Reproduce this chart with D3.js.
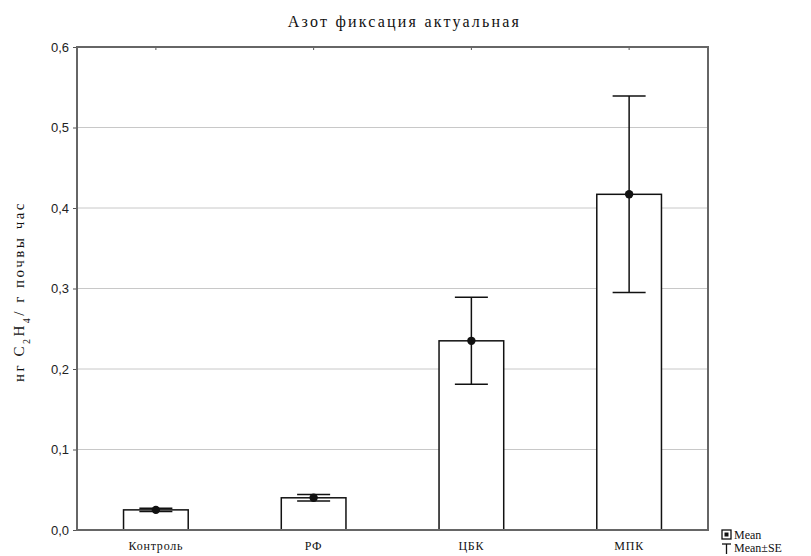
<!DOCTYPE html>
<html>
<head>
<meta charset="utf-8">
<script src="https://cdn.jsdelivr.net/npm/d3@7"></script>
<style>
  html, body { margin: 0; padding: 0; background: #fff; }
  svg { display: block; }
</style>
</head>
<body>
<svg id="chart" width="811" height="556"></svg>
<script>
// Nitrogen fixation data: mean and standard error per treatment
const categories = ["Контроль", "РФ", "ЦБК", "МПК"];
const means = [0.025, 0.040, 0.235, 0.417];
const stdErrors = [0.002, 0.004, 0.054, 0.122];
const yTicks = [0, 0.1, 0.2, 0.3, 0.4, 0.5, 0.6];
const titleText = "Азот фиксация актуальная";
const legendLabels = ["Mean", "Mean±SE"];

const svg = d3.select("#chart");
const margin = { left: 77, top: 47, right: 103, bottom: 26 };
const W = 811, H = 556;
const x0 = margin.left, x1 = W - margin.right;
const y0 = H - margin.bottom, y1 = margin.top;

const x = d3.scaleBand().domain(categories).range([x0, x1]).paddingInner(0).paddingOuter(0);
const y = d3.scaleLinear().domain([0, 0.6]).range([y0, y1]);

const serif = "'Liberation Serif', 'DejaVu Serif', serif";
const sans = "'Liberation Sans', Arial, sans-serif";

// Title
svg.append("text")
  .attr("x", (x0 + x1) / 2 + 12).attr("y", 27)
  .attr("text-anchor", "middle")
  .attr("font-family", serif).attr("font-size", 16)
  .attr("letter-spacing", 2.2)
  .attr("fill", "#111")
  .text(titleText);

// Horizontal gridlines
svg.append("g").selectAll("line")
  .data(yTicks.filter(t => t > 0 && t < 0.6))
  .join("line")
  .attr("x1", x0).attr("x2", x1)
  .attr("y1", d => y(d)).attr("y2", d => y(d))
  .attr("stroke", "#c8c8c8").attr("stroke-width", 1);

// Y axis with comma decimal labels
const fmt = d => d3.format(".1f")(d).replace(".", ",");
const yAxis = d3.axisLeft(y).tickValues(yTicks).tickFormat(fmt).tickSize(4).tickPadding(4);
const gy = svg.append("g").attr("transform", `translate(${x0},0)`).call(yAxis);
gy.select(".domain").remove();
gy.selectAll(".tick line").attr("stroke", "#555");
gy.selectAll(".tick text").attr("font-family", sans).attr("font-size", 13).attr("fill", "#222");

// X axis category labels
const xAxis = d3.axisBottom(x).tickSize(0).tickPadding(11);
const gx = svg.append("g").attr("transform", `translate(0,${y0})`).call(xAxis);
gx.select(".domain").remove();
gx.selectAll(".tick text").attr("font-family", serif).attr("font-size", 12)
  .attr("letter-spacing", 0.8).attr("fill", "#111");

// Small category ticks on top and bottom edges
const cx = d => x(d) + x.bandwidth() / 2;
svg.append("g").selectAll("line.tt").data(categories).join("line")
  .attr("x1", cx).attr("x2", cx).attr("y1", y1).attr("y2", y1 + 3)
  .attr("stroke", "#555");
svg.append("g").selectAll("line.tb").data(categories).join("line")
  .attr("x1", cx).attr("x2", cx).attr("y1", y0).attr("y2", y0 - 3)
  .attr("stroke", "#555");

// Bars
const barW = x.bandwidth() * 0.41;
const rows = categories.map((c, i) => ({ c, m: means[i], se: stdErrors[i] }));
svg.append("g").selectAll("rect").data(rows).join("rect")
  .attr("x", d => cx(d.c) - barW / 2)
  .attr("y", d => y(d.m))
  .attr("width", barW)
  .attr("height", d => y(0) - y(d.m))
  .attr("fill", "#fff").attr("stroke", "#111").attr("stroke-width", 1.5);

// Error bars
const capW = 33;
const eb = svg.append("g").selectAll("g").data(rows).join("g");
eb.append("line")
  .attr("x1", d => cx(d.c)).attr("x2", d => cx(d.c))
  .attr("y1", d => y(d.m + d.se)).attr("y2", d => y(d.m - d.se))
  .attr("stroke", "#111").attr("stroke-width", 1.5);
eb.append("line")
  .attr("x1", d => cx(d.c) - capW / 2).attr("x2", d => cx(d.c) + capW / 2)
  .attr("y1", d => y(d.m + d.se)).attr("y2", d => y(d.m + d.se))
  .attr("stroke", "#111").attr("stroke-width", 1.5);
eb.append("line")
  .attr("x1", d => cx(d.c) - capW / 2).attr("x2", d => cx(d.c) + capW / 2)
  .attr("y1", d => y(d.m - d.se)).attr("y2", d => y(d.m - d.se))
  .attr("stroke", "#111").attr("stroke-width", 1.5);
// Mean markers
eb.append("circle")
  .attr("cx", d => cx(d.c)).attr("cy", d => y(d.m)).attr("r", 4.2)
  .attr("fill", "#111");

// Plot frame
svg.append("rect")
  .attr("x", x0).attr("y", y1).attr("width", x1 - x0).attr("height", y0 - y1)
  .attr("fill", "none").attr("stroke", "#666").attr("stroke-width", 2);

// Legend
const lg = svg.append("g").attr("transform", "translate(722,530)");
lg.append("rect").attr("x", 0).attr("y", 0).attr("width", 9).attr("height", 9)
  .attr("fill", "#fff").attr("stroke", "#111").attr("stroke-width", 1.3);
lg.append("rect").attr("x", 2.5).attr("y", 2.5).attr("width", 4).attr("height", 4).attr("fill", "#111");
lg.append("text").attr("x", 12).attr("y", 9)
  .attr("font-family", serif).attr("font-size", 12).attr("fill", "#111").text(legendLabels[0]);
lg.append("line").attr("x1", 0).attr("x2", 9).attr("y1", 14).attr("y2", 14).attr("stroke", "#111").attr("stroke-width", 1.3);
lg.append("line").attr("x1", 4.5).attr("x2", 4.5).attr("y1", 14).attr("y2", 24).attr("stroke", "#111").attr("stroke-width", 1.3);
lg.append("text").attr("x", 12).attr("y", 22)
  .attr("font-family", serif).attr("font-size", 12).attr("fill", "#111").text(legendLabels[1]);

// Y axis title
svg.append("text")
  .attr("transform", `translate(24,${(y0 + y1) / 2 + 3}) rotate(-90)`)
  .attr("text-anchor", "middle")
  .attr("font-family", serif).attr("font-size", 15).attr("letter-spacing", 2.5).attr("fill", "#111")
  .html("нг C<tspan baseline-shift='sub' font-size='10'>2</tspan>H<tspan baseline-shift='sub' font-size='10'>4</tspan>/ г почвы час");
</script>
</body>
</html>
